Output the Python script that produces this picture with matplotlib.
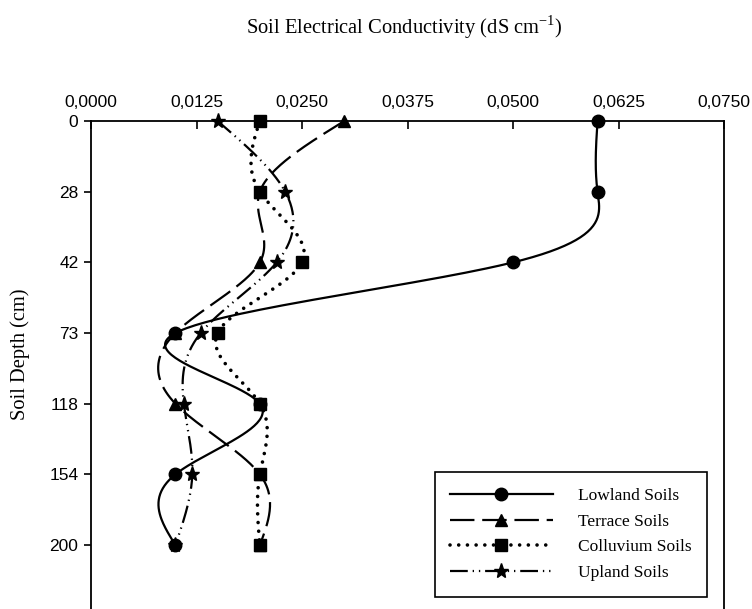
import numpy as np
import matplotlib
matplotlib.use("Agg")
import matplotlib.pyplot as plt
from matplotlib.ticker import FuncFormatter
from matplotlib.lines import Line2D

depths = ["0", "28", "42", "73", "118", "154", "200"]
lowland = [0.060, 0.060, 0.050, 0.010, 0.020, 0.010, 0.010]
terrace = [0.030, 0.020, 0.020, 0.010, 0.010, 0.020, 0.020]
colluvium = [0.020, 0.020, 0.025, 0.015, 0.020, 0.020, 0.020]
upland = [0.015, 0.023, 0.022, 0.013, 0.011, 0.012, 0.010]
labels = ["Lowland Soils", "Terrace Soils", "Colluvium Soils", "Upland Soils"]


def natural_spline(y, n=300):
    # natural cubic spline through equally spaced points
    y = np.asarray(y, dtype=float)
    k = len(y)
    A = np.zeros((k, k))
    b = np.zeros(k)
    A[0, 0] = A[-1, -1] = 1
    for i in range(1, k - 1):
        A[i, i - 1], A[i, i], A[i, i + 1] = 1, 4, 1
        b[i] = 6 * (y[i + 1] - 2 * y[i] + y[i - 1])
    M = np.linalg.solve(A, b)
    t = np.linspace(0, k - 1, n)
    out = np.empty(n)
    for j, tt in enumerate(t):
        i = min(int(tt), k - 2)
        u = tt - i
        out[j] = (M[i] * (1 - u) ** 3 / 6 + M[i + 1] * u ** 3 / 6
                  + (y[i] - M[i] / 6) * (1 - u) + (y[i + 1] - M[i + 1] / 6) * u)
    return t, out


plt.rcParams['font.family'] = ['Liberation Serif', 'DejaVu Serif']

fig = plt.figure(figsize=(7.52, 6.09), dpi=100)
ax = fig.add_axes([0.121, 0.0, 0.842, 0.8013])

styles = [
    dict(ls="-", lw=1.6, marker="o", ms=9, cap="butt"),
    dict(ls=(0, (11, 3.5)), lw=1.6, marker="^", ms=9, cap="butt"),
    dict(ls=(0, (0.01, 2.4)), lw=2.6, marker="s", ms=8.5, cap="round"),
    dict(ls=(0, (8, 2.2, 0.6, 2.2, 0.6, 2.2)), lw=1.6, marker="*", ms=11, cap="butt"),
]
series = [lowland, terrace, colluvium, upland]
idx = np.arange(len(depths))

handles = []
for vals, st, lab in zip(series, styles, labels):
    t, xs = natural_spline(vals)
    ax.plot(xs, t, color="black", lw=st["lw"], ls=st["ls"],
            dash_capstyle=st["cap"], clip_on=False)
    ax.plot(vals, idx, ls="none", marker=st["marker"], ms=st["ms"],
            color="black", clip_on=False, zorder=3)
    handles.append(Line2D([], [], color="black", lw=st["lw"], ls=st["ls"],
                          marker=st["marker"], ms=st["ms"],
                          dash_capstyle=st["cap"]))

ax.set_xlim(0, 0.075)
ax.set_ylim(6.905, 0)
ax.set_xticks(np.arange(0, 0.0751, 0.0125))
ax.xaxis.set_major_formatter(FuncFormatter(lambda v, p: f"{v:.4f}".replace(".", ",")))
ax.xaxis.tick_top()
ax.set_yticks(idx)
ax.set_yticklabels(depths)
ax.spines["bottom"].set_visible(False)
for s in ["top", "left", "right"]:
    ax.spines[s].set_linewidth(1.3)
ax.tick_params(axis="x", direction="in", length=6, width=1.2, pad=8,
               labelsize=12.5, labelfontfamily="Liberation Sans")
ax.tick_params(axis="y", direction="out", length=5, width=1.2, pad=4,
               labelsize=12.5, labelfontfamily="Liberation Sans")

fig.text(0.537, 0.955, "Soil Electrical Conductivity (dS cm$^{\\mathregular{-1}}$)",
         ha="center", va="center", fontsize=14.8)
fig.text(0.027, 0.418, "Soil Depth (cm)", rotation=90, ha="center", va="center",
         fontsize=14.8)

leg = ax.legend(handles, labels, loc="lower right", bbox_to_anchor=(0.973, 0.025),
                fontsize=12.5, handlelength=5.9, handletextpad=1.45,
                labelspacing=0.55, borderpad=0.9, borderaxespad=0,
                fancybox=False, edgecolor="black", framealpha=1)
leg.get_frame().set_linewidth(1.2)

fig.savefig("out.png", dpi=100)
